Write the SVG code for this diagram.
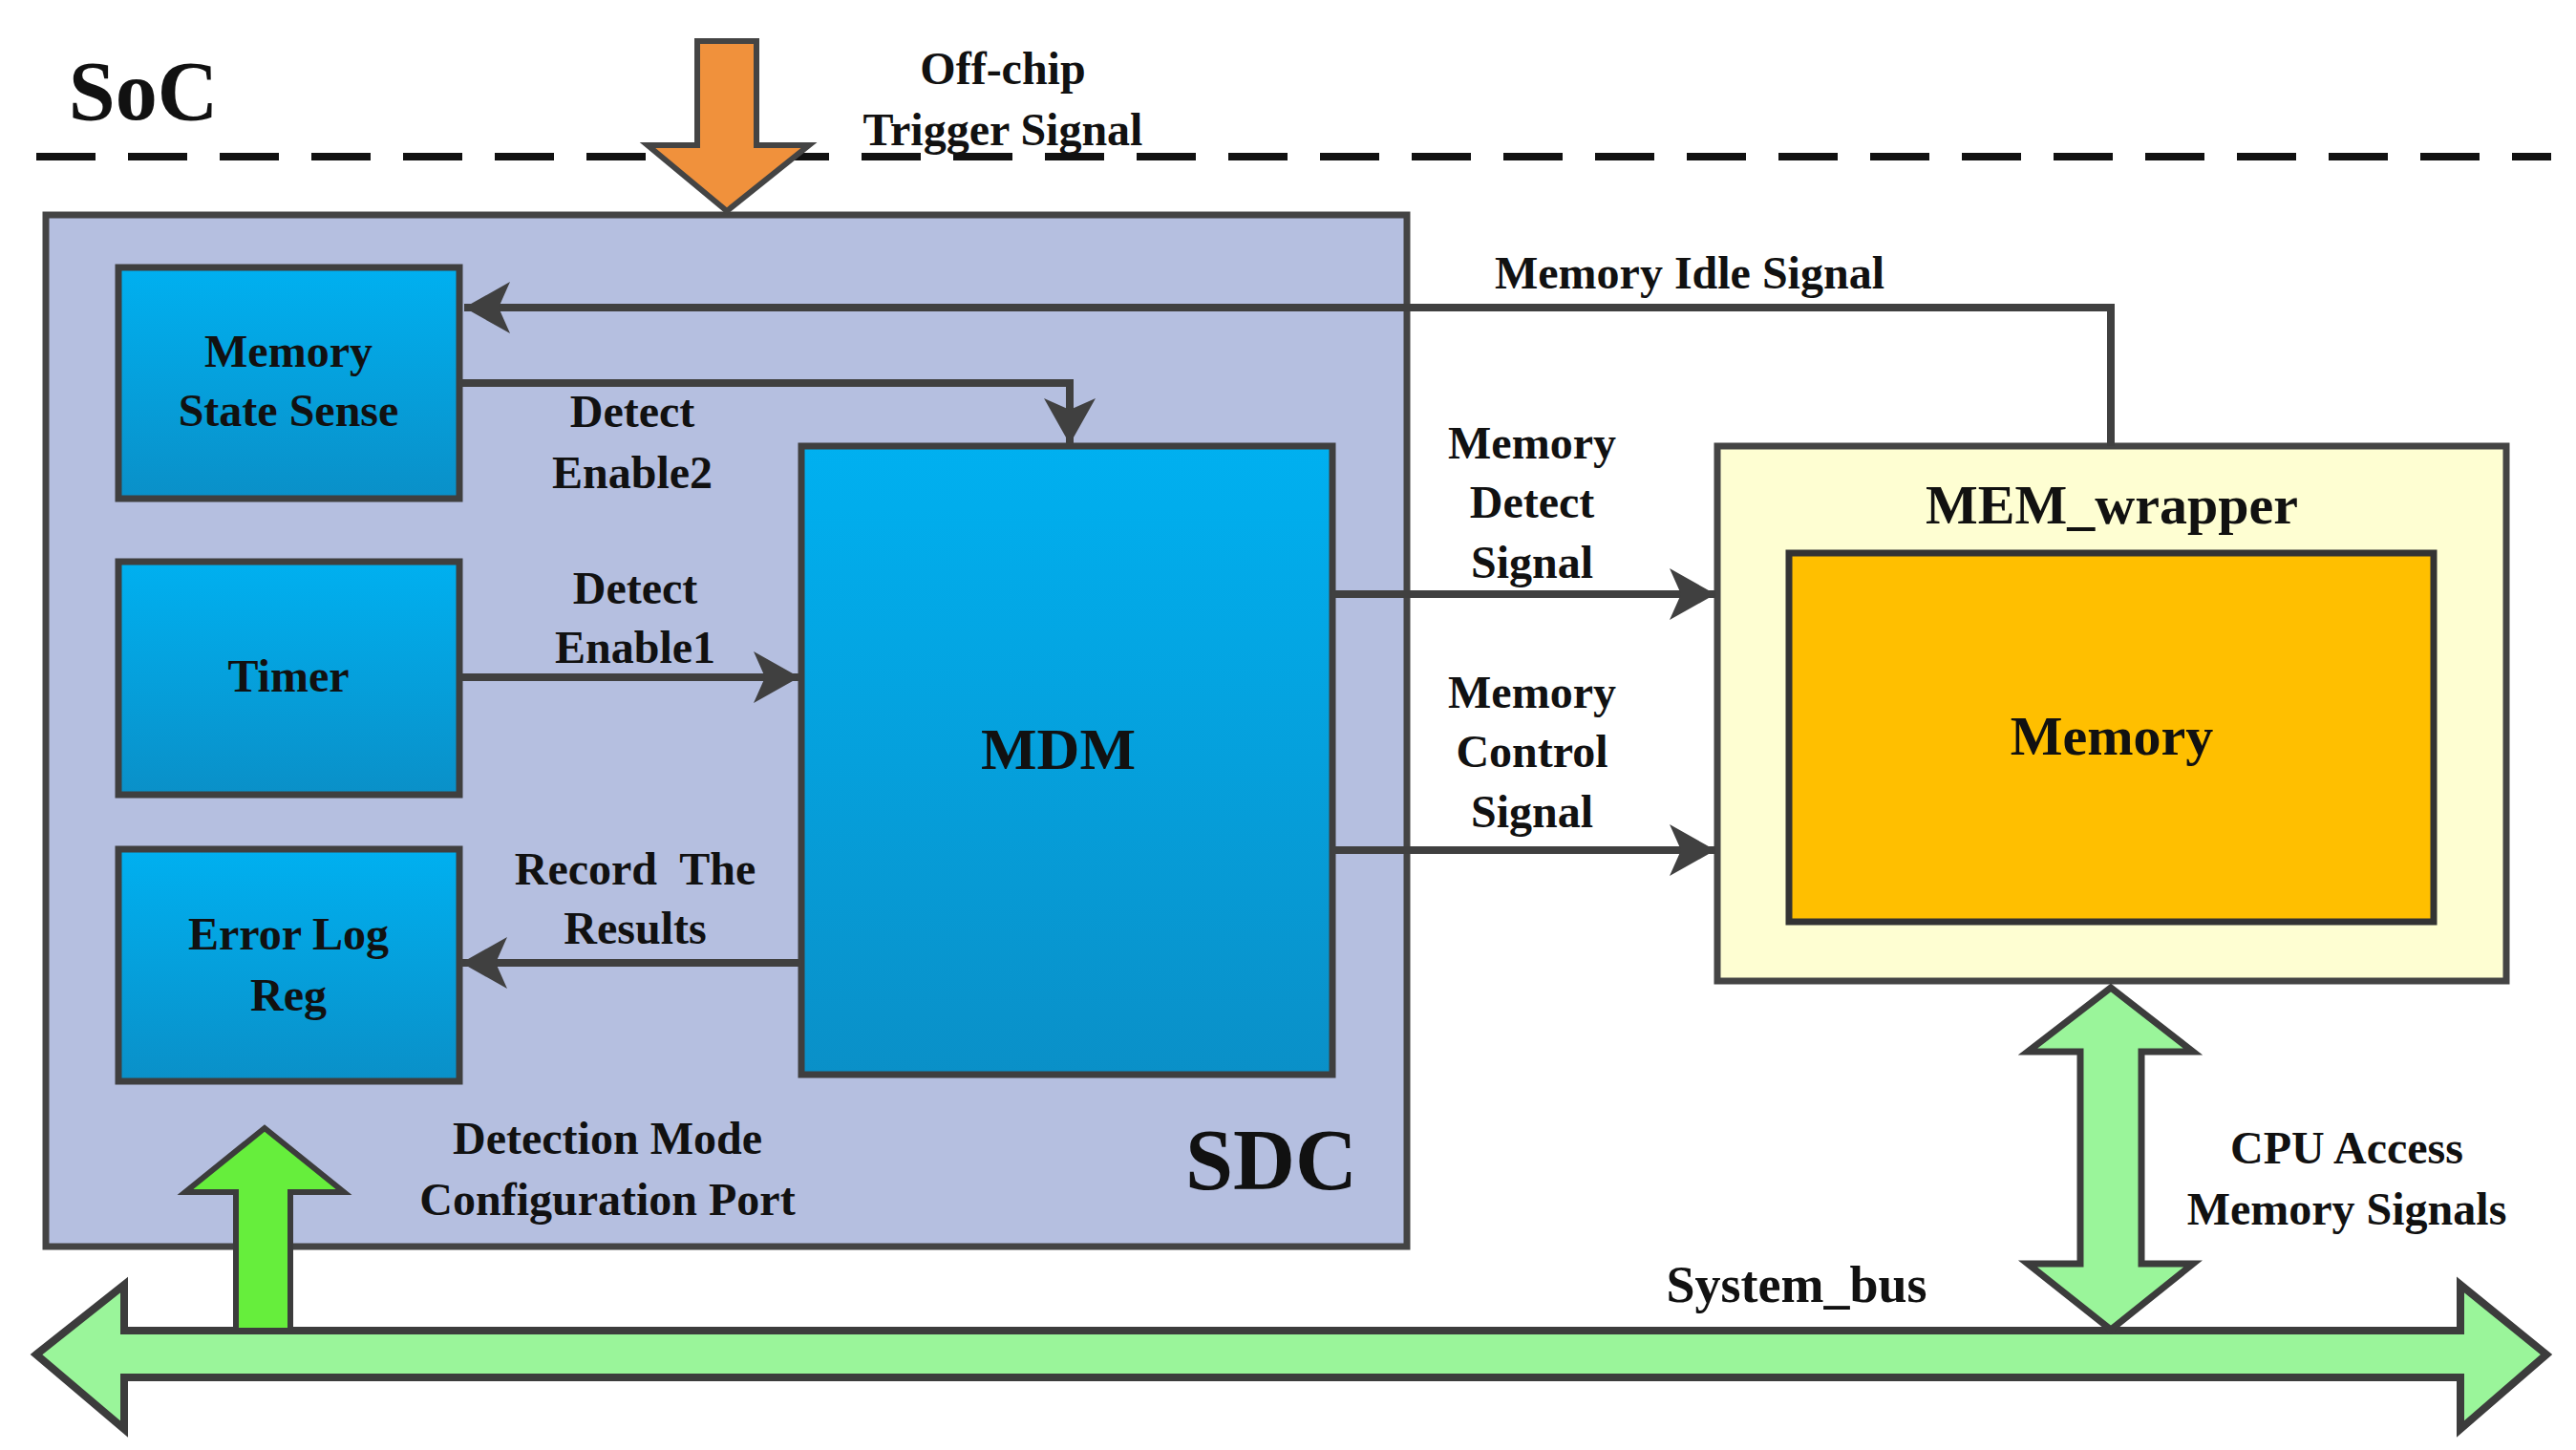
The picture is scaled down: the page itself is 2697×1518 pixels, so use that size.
<svg xmlns="http://www.w3.org/2000/svg" width="2697" height="1518" viewBox="0 0 2697 1518">
<style>
text{font-family:"Liberation Serif","Times New Roman",serif;font-weight:bold;fill:#111;text-anchor:middle}
.lbl{font-size:48px}
.box{stroke:#3f3f3f;stroke-width:7;fill:url(#blue)}
.wire{fill:none;stroke:#404040;stroke-width:8}
</style>
<defs>
<linearGradient id="blue" x1="0" y1="0" x2="0" y2="1"><stop offset="0" stop-color="#00b0f0"/><stop offset="1" stop-color="#0a90c8"/></linearGradient>
<marker id="ah" markerWidth="10" markerHeight="10" refX="8" refY="5" orient="auto" markerUnits="userSpaceOnUse" viewBox="0 0 10 10" style="overflow:visible"><path d="M-40,-22 L8,5 L-40,32 L-28,5 Z" transform="translate(0,0)" fill="#404040"/></marker>
</defs>
<rect width="2697" height="1518" fill="#fff"/>
<g id="soc">
<text x="150" y="125" style="font-size:88px;text-anchor:middle">SoC</text>
<line x1="38" y1="164" x2="2671" y2="164" stroke="#111" stroke-width="8" stroke-dasharray="62 34"/>
</g>
<g id="sdc">
<rect x="48" y="225" width="1425" height="1080" fill="#b5bfe0" stroke="#444" stroke-width="7"/>
<text x="1331" y="1245" style="font-size:90px">SDC</text>
</g>
<g id="trigger">
<path d="M730,43 H792 V152 H847 L761,221 L678,152 H730 Z" fill="#f0913c" stroke="#444" stroke-width="6"/>
<text class="lbl" x="1050" y="88">Off-chip</text>
<text class="lbl" x="1050" y="152">Trigger Signal</text>
</g>
<g id="mss"><rect class="box" x="124" y="280" width="357" height="242"/>
<text class="lbl" x="302" y="384">Memory</text><text class="lbl" x="302" y="446">State Sense</text></g>
<g id="timer"><rect class="box" x="124" y="588" width="357" height="244"/>
<text class="lbl" x="302" y="724">Timer</text></g>
<g id="errlog"><rect class="box" x="124" y="889" width="357" height="243"/>
<text class="lbl" x="302" y="994">Error Log</text><text class="lbl" x="302" y="1058">Reg</text></g>
<g id="mdm"><rect class="box" x="839" y="467" width="556" height="658"/>
<text x="1108" y="805" style="font-size:62px">MDM</text></g>
<g id="memwrapper"><rect x="1798" y="467" width="826" height="560" fill="#fefed2" stroke="#444" stroke-width="7"/>
<text x="2211" y="548" style="font-size:58px">MEM_wrapper</text></g>
<g id="memory"><rect x="1873" y="579" width="675" height="386" fill="#ffbf00" stroke="#333" stroke-width="7"/>
<text x="2211" y="790" style="font-size:58px">Memory</text></g>
<g id="connectors">
<path class="wire" d="M2210,467 V322 H486" marker-end="url(#ah)"/>
<path class="wire" d="M481,401 H1120 V465" marker-end="url(#ah)"/>
<path class="wire" d="M481,709 H837" marker-end="url(#ah)"/>
<path class="wire" d="M839,1008 H483" marker-end="url(#ah)"/>
<path class="wire" d="M1395,622 H1796" marker-end="url(#ah)"/>
<path class="wire" d="M1395,890 H1796" marker-end="url(#ah)"/>
<path d="M38,1418 L130,1345 V1393 H2576 V1345 L2666,1418 L2576,1496 V1442 H130 V1496 Z" fill="#9af59a" stroke="#3c3c3c" stroke-width="8"/>
<path d="M2210,1034 L2296,1101 H2242 V1323 H2296 L2210,1392 L2123,1323 H2178 V1101 H2123 Z" fill="#9af59a" stroke="#3c3c3c" stroke-width="7"/>
<path d="M277,1181 L360,1248 H304 V1393 H247 V1248 H194 Z" fill="#66ee3c" stroke="#3c3c3c" stroke-width="6"/>
</g>
<g id="labels">
<text class="lbl" x="1769" y="302">Memory Idle Signal</text>
<text class="lbl" x="662" y="447">Detect</text><text class="lbl" x="662" y="511">Enable2</text>
<text class="lbl" x="665" y="632">Detect</text><text class="lbl" x="665" y="694">Enable1</text>
<text class="lbl" x="665" y="926" xml:space="preserve">Record  The</text><text class="lbl" x="665" y="988">Results</text>
<text class="lbl" x="1604" y="480">Memory</text><text class="lbl" x="1604" y="542">Detect</text><text class="lbl" x="1604" y="605">Signal</text>
<text class="lbl" x="1604" y="741">Memory</text><text class="lbl" x="1604" y="803">Control</text><text class="lbl" x="1604" y="866">Signal</text>
<text class="lbl" x="636" y="1208">Detection Mode</text><text class="lbl" x="636" y="1272">Configuration Port</text>
<text class="lbl" x="2457" y="1218">CPU Access</text><text class="lbl" x="2457" y="1282">Memory Signals</text>
<text x="1881" y="1363" style="font-size:54px">System_bus</text>
</g>
</svg>
